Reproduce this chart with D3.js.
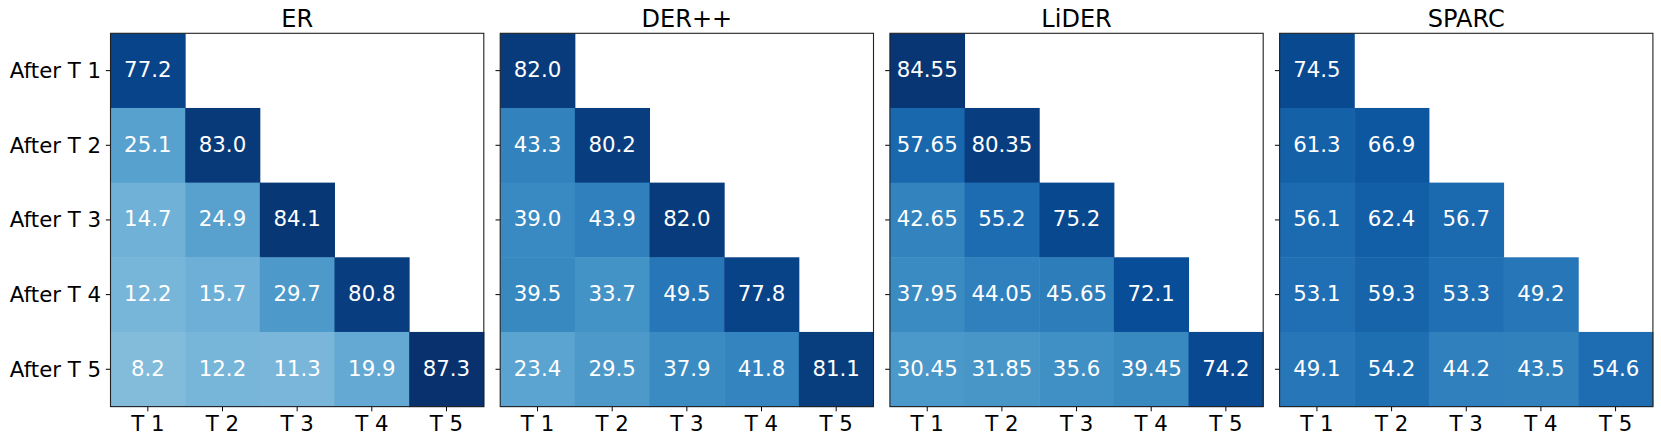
<!DOCTYPE html>
<html>
<head>
<meta charset="utf-8">
<script src="https://cdn.jsdelivr.net/npm/d3@7"></script>
<style>
  html, body { margin: 0; padding: 0; background: #fff; }
  svg { display: block; font-family: "DejaVu Sans", sans-serif; }
</style>
</head>
<body>
<svg id="chart" width="1661" height="445"></svg>
<script>
// ---- data ----
const methods = ["ER", "DER++", "LiDER", "SPARC"];
const trainedOn = ["After T 1", "After T 2", "After T 3", "After T 4", "After T 5"];
const evaluatedOn = ["T 1", "T 2", "T 3", "T 4", "T 5"];

const erValues = [
  [77.2],
  [25.1, 83.0],
  [14.7, 24.9, 84.1],
  [12.2, 15.7, 29.7, 80.8],
  [8.2, 12.2, 11.3, 19.9, 87.3]
];
const derppValues = [
  [82.0],
  [43.3, 80.2],
  [39.0, 43.9, 82.0],
  [39.5, 33.7, 49.5, 77.8],
  [23.4, 29.5, 37.9, 41.8, 81.1]
];
const liderValues = [
  [84.55],
  [57.65, 80.35],
  [42.65, 55.2, 75.2],
  [37.95, 44.05, 45.65, 72.1],
  [30.45, 31.85, 35.6, 39.45, 74.2]
];
const sparcValues = [
  [74.5],
  [61.3, 66.9],
  [56.1, 62.4, 56.7],
  [53.1, 59.3, 53.3, 49.2],
  [49.1, 54.2, 44.2, 43.5, 54.6]
];
const allValues = [erValues, derppValues, liderValues, sparcValues];

// ---- colour map (matplotlib "Blues") ----
const bluesStops = ["#f7fbff", "#deebf7", "#c6dbef", "#9ecae1", "#6baed6", "#4292c6", "#2171b5", "#08519c", "#08306b"];
const blues = d3.scaleLinear()
  .domain(d3.range(bluesStops.length).map(i => i / (bluesStops.length - 1)))
  .range(bluesStops)
  .interpolate(d3.interpolateRgb)
  .clamp(true);
const norm = d3.scaleLinear().domain([-55, 88]).range([0, 1]).clamp(true);
const color = v => blues(norm(v));

const fmt = v => Number.isInteger(v) ? v.toFixed(1) : String(v);

// ---- layout ----
const svg = d3.select("#chart");
const panelLeft0 = 110.5, panelStep = 389.7, panelSize = 373.3, panelTop = 33.3;

methods.forEach((name, pi) => {
  const g = svg.append("g")
    .attr("transform", `translate(${panelLeft0 + pi * panelStep},${panelTop})`);

  const x = d3.scaleBand().domain(evaluatedOn).range([0, panelSize]).padding(0);
  const y = d3.scaleBand().domain(trainedOn).range([0, panelSize]).padding(0);

  const cells = [];
  allValues[pi].forEach((row, ri) => {
    row.forEach((v, ci) => cells.push({ row: trainedOn[ri], col: evaluatedOn[ci], v }));
  });

  g.append("rect")
    .attr("width", panelSize).attr("height", panelSize)
    .attr("fill", "#fff");

  g.selectAll("rect.cell").data(cells).join("rect")
    .attr("class", "cell")
    .attr("x", d => x(d.col))
    .attr("y", d => y(d.row))
    .attr("width", x.bandwidth() + 0.5)
    .attr("height", y.bandwidth() + 0.5)
    .attr("fill", d => color(d.v));

  g.selectAll("text.val").data(cells).join("text")
    .attr("class", "val")
    .attr("x", d => x(d.col) + x.bandwidth() / 2)
    .attr("y", d => y(d.row) + y.bandwidth() / 2)
    .attr("dy", "0.30em")
    .attr("text-anchor", "middle")
    .attr("font-size", "21.3px")
    .attr("fill", "#fff")
    .text(d => fmt(d.v));

  // axes
  const xAxis = d3.axisBottom(x).tickSize(4.7).tickPadding(4.7);
  const gx = g.append("g").attr("transform", `translate(0,${panelSize})`).call(xAxis);
  gx.select(".domain").remove();
  gx.selectAll("text").attr("font-size", "21.3px").attr("fill", "#000").attr("font-family", "DejaVu Sans");
  gx.selectAll("line").attr("stroke", "#000").attr("stroke-width", 1);

  const yAxis = d3.axisLeft(y).tickSize(4.7).tickPadding(4.7);
  if (pi > 0) yAxis.tickFormat("");
  const gy = g.append("g").call(yAxis);
  gy.select(".domain").remove();
  gy.selectAll("text").attr("font-size", "21.3px").attr("fill", "#000").attr("font-family", "DejaVu Sans").attr("dy", "0.35em");
  gy.selectAll("line").attr("stroke", "#000").attr("stroke-width", 1);

  // frame
  g.append("rect")
    .attr("width", panelSize).attr("height", panelSize)
    .attr("fill", "none").attr("stroke", "#222").attr("stroke-width", 1.1);

  // title
  g.append("text")
    .attr("x", panelSize / 2)
    .attr("y", -6)
    .attr("text-anchor", "middle")
    .attr("font-size", "24px")
    .attr("fill", "#000")
    .text(name);
});
</script>
</body>
</html>
